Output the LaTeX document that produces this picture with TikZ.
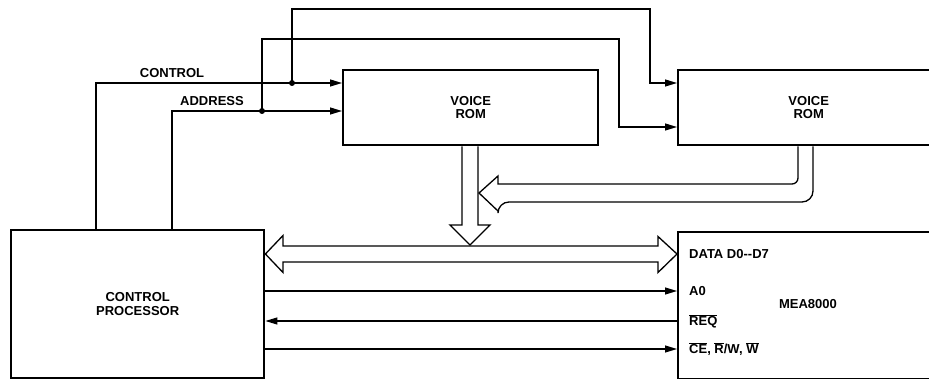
\documentclass[tikz,border=0pt]{standalone}
\usepackage{fontspec}
\setmainfont{Liberation Sans}
\usetikzlibrary{arrows.meta}

\begin{document}
\begin{tikzpicture}[x=1pt,y=-1pt,
  blk/.style={draw,line width=2.4pt,inner sep=0pt,anchor=north west,align=center,
    font=\bfseries\fontsize{13}{13.5}\selectfont},
  lbl/.style={inner sep=0pt,font=\bfseries\fontsize{13}{13.5}\selectfont},
  pin/.style={lbl,anchor=west},
  arr/.style={-{Triangle[length=12pt,width=7pt]},line width=1.2pt},
  sig/.style={line width=1.2pt},
  bus/.style={line width=1.3pt,line join=miter},
  dot/.style={circle,fill,inner sep=0pt,minimum size=6pt}]
\useasboundingbox (0,0) rectangle (929,379);
\node[blk,minimum width=253pt,minimum height=148pt] (cp) at (10,229) {CONTROL\\PROCESSOR};
\node[blk,minimum width=255pt,minimum height=75pt] (rom1) at (342,69) {VOICE\\ROM};
\node[blk,minimum width=261pt,minimum height=75pt] (rom2) at (677,69) {VOICE\\ROM};
\node[blk,minimum width=261pt,minimum height=147pt] (mea) at (677,231) {};
\node[lbl] (mname) at (808,304) {MEA8000};
\node[pin] (data) at (689,254) {DATA D0-{}-D7};
\node[pin] (a0) at (689,291) {A0};
\node[pin] (req) at (689,321) {$\overline{\mbox{REQ}}$};
\node[pin] (ce) at (689,349) {$\overline{\mbox{CE}}$, $\overline{\mbox{R}}$/W, $\overline{\mbox{W}}$};
\node[lbl] (ctllbl) at (172,73) {CONTROL};
\node[lbl] (adrlbl) at (212,101) {ADDRESS};
\node[dot] (cdot) at (292,83) {};
\node[dot] (adot) at (262,111) {};
\draw[arr] (cp.north -| 96,0) |- (rom1.west |- cdot);
\draw[arr] (cp.north -| 172,0) |- (rom1.west |- adot);
\draw[arr] (cdot.center) |- (650,9) |- (rom2.west |- 0,83);
\draw[arr] (adot.center) |- (619,39) |- (rom2.west |- 0,127);
\draw[bus] (rom1.south -| 462,0) -- (462,225) -- (450,225) -- (470,245) -- (490,225)
  -- (478,225) -- (rom1.south -| 478,0);
\draw[bus] (rom2.south -| 813,0) [rounded corners=11pt] -- (813,202) -- (498,202)
  [sharp corners] -- (498,211) -- (479,193) -- (498,176) -- (498,184)
  [rounded corners=6pt] -- (798,184) -- (rom2.south -| 798,0);
\draw[bus] (cp.east |- data) -- (283,235.5) -- (283,246) -- (658,246) -- (658,236.5)
  -- (mea.west |- data) -- (658,272.5) -- (658,262) -- (283,262) -- (283,272.5) -- cycle;
\draw[arr] (cp.east |- a0) -- (mea.west |- a0);
\draw[arr] (mea.west |- 0,321) -- (cp.east |- 0,321);
\draw[arr] (cp.east |- ce) -- (mea.west |- ce);
\end{tikzpicture}
\end{document}
